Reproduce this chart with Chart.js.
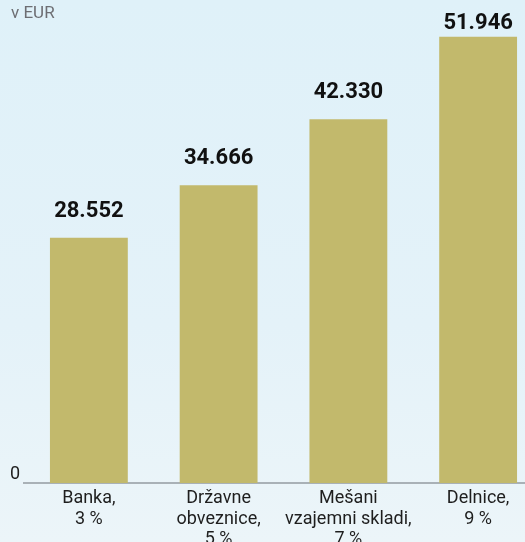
<!DOCTYPE html>
<html>
<head>
<meta charset="utf-8">
<script src="https://cdn.jsdelivr.net/npm/chart.js@4/dist/chart.umd.min.js"></script>
<style>
  html, body {
    margin: 0;
    padding: 0;
    width: 525px;
    height: 542px;
    overflow: hidden;
    background: linear-gradient(to bottom, #dff1f9 0%, #e4f2f9 60%, #ecf5f9 100%);
  }
  .wrap {
    position: relative;
    width: 543px;
    height: 542px;
  }
  .unit {
    position: absolute;
    left: 11px;
    top: 2px;
    font: 17px Roboto, sans-serif;
    color: #6d6e73;
  }
</style>
</head>
<body>
<div class="wrap">
  <canvas id="savingsChart"></canvas>
  <div class="unit">v EUR</div>
</div>
<script>
// Categories (multi-line labels) and values in EUR
const categories = [
  ['Banka,', '3 %'],
  ['Državne', 'obveznice,', '5 %'],
  ['Mešani', 'vzajemni skladi,', '7 %'],
  ['Delnice,', '9 %']
];
const values = [28552, 34666, 42330, 51946];
const yTicks = [0];

// Draws bold value labels above each bar (kept inside the canvas at the top)
const valueLabels = {
  id: 'valueLabels',
  afterDatasetsDraw(chart) {
    const ctx = chart.ctx;
    const meta = chart.getDatasetMeta(0);
    ctx.save();
    ctx.font = 'bold 22px Roboto, sans-serif';
    ctx.fillStyle = '#111111';
    ctx.textAlign = 'center';
    ctx.textBaseline = 'alphabetic';
    meta.data.forEach((bar, i) => {
      const y = Math.max(bar.y - 21, 29);
      ctx.fillText(values[i].toLocaleString('de-DE'), bar.x, y);
    });
    ctx.restore();
  }
};

const ctx = document.getElementById('savingsChart').getContext('2d');

new Chart(ctx, {
  type: 'bar',
  data: {
    labels: categories,
    datasets: [{
      data: values,
      backgroundColor: '#c2b96c',
      borderWidth: 0,
      barPercentage: 0.6,
      categoryPercentage: 1
    }]
  },
  options: {
    responsive: true,
    maintainAspectRatio: false,
    animation: false,
    layout: { padding: { top: 10, left: 0, right: 0, bottom: 0 } },
    plugins: {
      legend: { display: false },
      tooltip: { enabled: false }
    },
    scales: {
      x: {
        grid: { display: false, drawTicks: false },
        border: { display: true, color: '#a9b1b7', width: 2 },
        ticks: {
          color: '#1e1e1e',
          padding: 5,
          maxRotation: 0,
          autoSkip: false,
          font: { family: 'Roboto', size: 18, lineHeight: 1.15 }
        },
        afterFit(axis) { axis.height = 59; }
      },
      y: {
        min: 0,
        max: 54500,
        grid: { display: false, drawTicks: false },
        border: { display: false },
        ticks: {
          color: '#1e1e1e',
          padding: 4,
          labelOffset: -9,
          font: { family: 'Roboto', size: 18 }
        },
        afterBuildTicks(axis) { axis.ticks = yTicks.map(v => ({ value: v })); },
        afterFit(axis) { axis.width = 24; }
      }
    }
  },
  plugins: [valueLabels]
});
</script>
</body>
</html>
